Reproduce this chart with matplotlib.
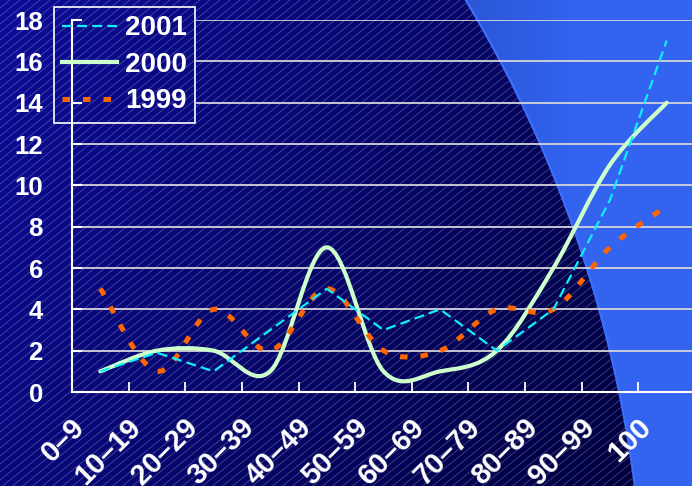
import numpy as np
import matplotlib
matplotlib.use('Agg')
import matplotlib.pyplot as plt
from matplotlib.path import Path
from matplotlib.patches import PathPatch, Polygon
from matplotlib.lines import Line2D
from matplotlib.collections import LineCollection
from matplotlib.colors import to_rgb
from matplotlib.transforms import ScaledTranslation

CATEGORIES = ['0–9', '10–19', '20–29', '30–39', '40–49', '50–59',
              '60–69', '70–79', '80–89', '90–99', '100']
Y2001 = [1, 1.9, 1, 3, 5, 3, 4, 2, 4, 9.3, 17]
Y2000 = [1, 2, 2, 1, 7, 1, 1, 2, 6, 11, 14]
Y1999 = [5, 1, 4, 2, 5, 2, 2, 4, 4, 7, 9]

C2001 = '#10eefa'
C2000 = '#ccffcc'
C1999 = '#ff6600'

W, H = 692, 486

plt.rcParams['font.family'] = ['Liberation Sans', 'DejaVu Sans']
plt.rcParams['font.weight'] = 'bold'


def smooth_path(xs, ys):
    # Excel-like smoothed line: cubic bezier through every point
    pts = np.column_stack([xs, ys]).astype(float)
    n = len(pts)
    verts = [pts[0]]
    codes = [Path.MOVETO]
    for i in range(n - 1):
        prev = pts[max(i - 1, 0)]
        nxt = pts[min(i + 2, n - 1)]
        c1 = pts[i] + (pts[i + 1] - prev) / 6
        c2 = pts[i + 1] - (nxt - pts[i]) / 6
        verts += [c1, c2, pts[i + 1]]
        codes += [Path.CURVE4] * 3
    return Path(verts, codes)


fig = plt.figure(figsize=(W / 100, H / 100), dpi=100)

# ── background: navy gradient, diagonal hatch, bright blue arc region ──
bg = fig.add_axes([0, 0, 1, 1], zorder=-1)
bg.set_xlim(0, W)
bg.set_ylim(H, 0)
bg.axis('off')

gx, gy = np.meshgrid(np.linspace(0, 1, 240), np.linspace(0, 1, 170))
t = np.clip(0.75 * gx + 0.3 * gy, 0, 1)[..., None]
c0, c1 = np.array(to_rgb('#0c0c98')), np.array(to_rgb('#00003e'))
bg.imshow(c0 + (c1 - c0) * t, extent=(0, W, H, 0), aspect='auto', zorder=0)

offs = np.arange(0, H + 0.8 * W + 10, 8)
segs = [[(0, c), (W, c - 0.8 * W)] for c in offs]
bg.add_collection(LineCollection(segs, colors=[(1, 1, 1, 0.26)], linewidths=0.6, zorder=1))

cx, cy, r = -605, 645, 1250
ay = np.linspace(0, H, 120)
ax_arc = cx + np.sqrt(r ** 2 - (ay - cy) ** 2)
poly = Polygon(np.column_stack([np.r_[ax_arc, W, W], np.r_[ay, H, 0]]),
               closed=True, facecolor='none', edgecolor='none', transform=bg.transData)
bg.add_patch(poly)
bx = np.clip((np.linspace(0, 1, 240) * W - 460) / 120, 0, 1)[None, :, None]
b0, b1 = np.array(to_rgb('#2a55d4')), np.array(to_rgb('#3364f0'))
bright = bg.imshow(np.repeat(b0 + (b1 - b0) * bx, 10, axis=0), extent=(0, W, H, 0),
                   aspect='auto', zorder=2)
bright.set_clip_path(poly)
bg.plot(ax_arc, ay, color='#3c6ffc', lw=1.6, zorder=3)

# ── main chart ──
ax = fig.add_axes([72 / W, 94 / H, 623 / W, 372 / H])
ax.set_facecolor('none')
x = np.arange(len(CATEGORIES))
ax.set_xlim(-0.5, len(CATEGORIES) - 0.5)
ax.set_ylim(0, 18)

for s in ('top', 'right'):
    ax.spines[s].set_visible(False)
for s in ('left', 'bottom'):
    ax.spines[s].set_color('white')
    ax.spines[s].set_linewidth(1.5)

leg_right = (197 - 72) / 623
for yv in range(2, 19, 2):
    ax.axhline(yv, xmin=leg_right if yv >= 14 else 0, xmax=1,
               color='#d4d4dc', lw=1.3, zorder=1)

p2000 = PathPatch(smooth_path(x, Y2000), fill=False, edgecolor=C2000, lw=3.0,
                  capstyle='round', zorder=3)
ax.add_patch(p2000)
p1999 = PathPatch(smooth_path(x, Y1999), fill=False, edgecolor=C1999, lw=3.6,
                  linestyle=(0, (1.5, 2.6)), zorder=4)
ax.add_patch(p1999)
ax.plot(x, Y2001, color=C2001, lw=1.6, dashes=(4.5, 2.3), zorder=5)

ax.set_yticks(range(0, 19, 2))
ax.tick_params(axis='y', direction='in', length=7, width=1.5, color='white',
               labelcolor='white', labelsize=18.5, pad=21)
ax.set_xticks(x)
ax.set_xticks(np.arange(0.5, len(CATEGORIES) - 0.5, 1), minor=True)
ax.tick_params(axis='x', which='major', length=0, pad=0)
ax.tick_params(axis='x', which='minor', direction='in', length=7, width=1.3, color='white')
ax.set_xticklabels(CATEGORIES, rotation=45, ha='right', va='top',
                   rotation_mode='anchor', color='white', fontsize=21)
shift = ScaledTranslation(-30 / 100, -21 / 100, fig.dpi_scale_trans)
for lbl in ax.get_xticklabels():
    lbl.set_transform(lbl.get_transform() + shift)

handles = [
    Line2D([], [], color=C2001, lw=1.6, dashes=(4.5, 2.3)),
    Line2D([], [], color=C2000, lw=3.0),
    Line2D([], [], color=C1999, lw=3.6, dashes=(1.5, 2.6)),
]
leg = ax.legend(handles, ['2001', '2000', '1999'], loc='upper left',
                bbox_to_anchor=(54 / W, 1 - 7 / H), bbox_transform=fig.transFigure,
                borderaxespad=0, fancybox=False, facecolor='none', edgecolor='white',
                framealpha=1, labelcolor='white',
                prop=dict(family='Liberation Sans', weight='bold', size=20),
                handlelength=1.95, handletextpad=0.3, labelspacing=0.38, borderpad=0.3)
leg.get_frame().set_linewidth(1.2)
leg.set_zorder(6)

fig.savefig('out.png', dpi=100)
